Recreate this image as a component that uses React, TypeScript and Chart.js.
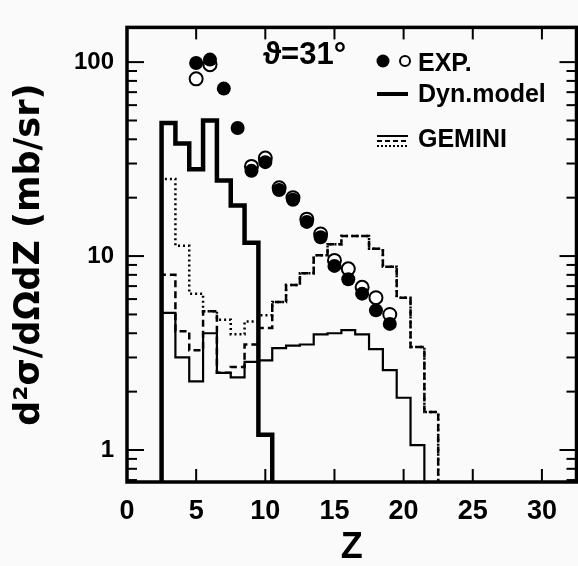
import React, { useEffect, useRef } from 'react';
import { Chart, registerables } from 'chart.js';

Chart.register(...registerables);

// ---------- data ----------
// experimental points, full circles
const expFilledZ = [5, 6, 7, 8, 9, 10, 11, 12, 13, 14, 15, 16, 17, 18, 19];
const expFilled = [99, 103, 73, 45.7, 27.5, 30.5, 21.9, 19.5, 15, 12.5, 8.9, 7.6, 6.4, 5.25, 4.47];
// experimental points, open circles
const expOpenZ = [5, 6, 9, 10, 11, 12, 13, 14, 15, 16, 17, 18, 19];
const expOpen = [82, 97, 29, 32, 22.5, 20, 15.5, 13, 9.5, 8.6, 6.9, 6.1, 5.0];

// Dyn. model histogram, bins Z = 3 .. 10
const dynFirstZ = 3;
const dynModel = [48.6, 38, 28, 50, 24.5, 18.2, 11.7, 1.2];

// GEMINI histograms
const gemSolidFirstZ = 3; // Z = 3 .. 21
const gemSolid = [5.1, 3.0, 2.26, 4.0, 2.5, 2.37, 2.85, 2.9, 3.35, 3.45, 3.5, 3.95, 4.0, 4.15, 3.95, 3.31, 2.58, 1.86, 1.06];
const gemDashedFirstZ = 3; // Z = 3 .. 22
const gemDashed = [8.0, 4.1, 3.27, 5.2, 2.5, 2.68, 3.5, 4.26, 5.8, 7.1, 8.15, 10.1, 11.5, 12.7, 12.7, 10.9, 8.8, 6.1, 3.4, 1.57];
const gemDottedFirstZ = 3; // Z = 3 .. 22
const gemDotted = [25, 11.3, 6.4, 5.2, 4.7, 3.95, 4.6, 4.95, 5.8, 7.1, 8.15, 10.1, 11.5, 12.7, 12.7, 10.9, 8.8, 6.1, 3.4, 1.57];

// axes
const xMin = 0;
const xMax = 32.5;
const yMin = 0.684;
const yMax = 151;
const xTicks = [0, 5, 10, 15, 20, 25, 30];
const yTicks = [1, 10, 100];
const yMinorTicks = [0.7, 0.8, 0.9, 2, 3, 4, 5, 6, 7, 8, 9, 20, 30, 40, 50, 60, 70, 80, 90];

const xTitle = 'Z';
const yTitle = 'd²σ/dΩdZ (mb/sr)';
const angleLabel = 'ϑ=31°';
const legendExp = 'EXP.';
const legendDyn = 'Dyn.model';
const legendGemini = 'GEMINI';

const FLOOR = 0.2; // below the axis minimum, clipped away

const FONT = "'Liberation Sans', Arial, sans-serif";

function histogram(firstZ: number, values: number[]) {
  const pts: { x: number; y: number }[] = [];
  pts.push({ x: firstZ - 0.5, y: FLOOR });
  values.forEach((v, i) => pts.push({ x: firstZ + i - 0.5, y: v }));
  const end = firstZ + values.length - 0.5;
  pts.push({ x: end, y: values[values.length - 1] });
  pts.push({ x: end, y: FLOOR });
  return pts;
}

const decorPlugin = {
  id: 'decor',
  afterDatasetsDraw(chart: any) {
    const { ctx, chartArea: a, scales } = chart;
    const x = scales.x;
    const y = scales.y;
    const line = (x1: number, y1: number, x2: number, y2: number) => {
      ctx.beginPath();
      ctx.moveTo(x1, y1);
      ctx.lineTo(x2, y2);
      ctx.stroke();
    };
    ctx.save();
    ctx.strokeStyle = '#000';
    ctx.fillStyle = '#000';
    ctx.lineWidth = 2;
    for (const v of yTicks) {
      const py = y.getPixelForValue(v);
      line(a.left, py, a.left + 17, py);
      line(a.right, py, a.right - 17, py);
    }
    for (const v of yMinorTicks) {
      const py = y.getPixelForValue(v);
      line(a.left, py, a.left + 10, py);
      line(a.right, py, a.right - 10, py);
    }
    for (const v of xTicks) {
      if (v === xMin) continue;
      const px = x.getPixelForValue(v);
      line(px, a.top, px, a.top + 12);
      line(px, a.bottom, px, a.bottom - 13);
    }
    // frame
    ctx.lineWidth = 3.5;
    ctx.strokeRect(a.left, a.top, a.right - a.left, a.bottom - a.top);

    // angle label
    ctx.font = `bold 31px ${FONT}`;
    ctx.textBaseline = 'alphabetic';
    ctx.textAlign = 'left';
    ctx.fillText(angleLabel, 263, 64);

    // legend
    ctx.font = `bold 25px ${FONT}`;
    // EXP
    ctx.beginPath();
    ctx.arc(383, 61, 6.5, 0, Math.PI * 2);
    ctx.fill();
    ctx.beginPath();
    ctx.lineWidth = 2;
    ctx.arc(405, 61, 5, 0, Math.PI * 2);
    ctx.stroke();
    ctx.fillText(legendExp, 418, 71);
    // Dyn model
    ctx.lineWidth = 4;
    line(377, 94, 408, 94);
    ctx.fillText(legendDyn, 418, 102);
    // GEMINI
    ctx.lineWidth = 2;
    line(377, 136, 408, 136);
    ctx.setLineDash([5, 3]);
    line(377, 141, 408, 141);
    ctx.setLineDash([2, 2]);
    line(377, 146, 408, 146);
    ctx.setLineDash([]);
    ctx.fillText(legendGemini, 418, 147);
    ctx.restore();
  },
};

export default function App() {
  const ref = useRef<HTMLCanvasElement | null>(null);

  useEffect(() => {
    if (!ref.current) return;
    const histCommon = {
      stepped: 'before' as const,
      pointRadius: 0,
      fill: false,
      borderColor: '#000',
      clip: 0,
    };
    const chart = new Chart(ref.current, {
      type: 'line',
      data: {
        datasets: [
          {
            label: 'EXP filled',
            data: expFilledZ.map((z, i) => ({ x: z, y: expFilled[i] })),
            showLine: false,
            pointRadius: 7,
            pointBackgroundColor: '#000',
            pointBorderColor: '#000',
            pointBorderWidth: 0,
          },
          {
            label: 'EXP open',
            data: expOpenZ.map((z, i) => ({ x: z, y: expOpen[i] })),
            showLine: false,
            pointRadius: 6.5,
            pointBackgroundColor: '#fff',
            pointBorderColor: '#000',
            pointBorderWidth: 2,
          },
          {
            label: 'Dyn.model',
            data: histogram(dynFirstZ, dynModel),
            borderWidth: 4.5,
            ...histCommon,
          },
          {
            label: 'GEMINI solid',
            data: histogram(gemSolidFirstZ, gemSolid),
            borderWidth: 2.2,
            ...histCommon,
          },
          {
            label: 'GEMINI dashed',
            data: histogram(gemDashedFirstZ, gemDashed),
            borderWidth: 2.5,
            borderDash: [7, 4],
            ...histCommon,
          },
          {
            label: 'GEMINI dotted',
            data: histogram(gemDottedFirstZ, gemDotted),
            borderWidth: 2.5,
            borderDash: [2, 3],
            ...histCommon,
          },
        ],
      },
      options: {
        responsive: false,
        animation: false,
        devicePixelRatio: 1,
        layout: { padding: { top: 13, left: 0, right: 0, bottom: 0 } },
        plugins: {
          legend: { display: false },
          tooltip: { enabled: false },
        },
        scales: {
          x: {
            type: 'linear',
            min: xMin,
            max: xMax,
            grid: { display: false, drawTicks: false },
            border: { display: false },
            afterBuildTicks: (s: any) => {
              s.ticks = xTicks.map((v) => ({ value: v }));
            },
            afterFit: (s: any) => {
              s.height = 84;
            },
            ticks: {
              color: '#000',
              font: { family: FONT, size: 27, weight: 'bold' },
              padding: 13,
              maxRotation: 0,
              autoSkip: false,
              callback: (v: any) => String(v),
            },
            title: {
              display: true,
              text: xTitle,
              color: '#000',
              font: { family: FONT, size: 36, weight: 'bold', lineHeight: 1 },
              padding: { top: 0, bottom: 0 },
            },
          },
          y: {
            type: 'logarithmic',
            min: yMin,
            max: yMax,
            grid: { display: false, drawTicks: false },
            border: { display: false },
            afterBuildTicks: (s: any) => {
              s.ticks = yTicks.map((v) => ({ value: v }));
            },
            afterFit: (s: any) => {
              s.width = 127;
            },
            ticks: {
              color: '#000',
              font: { family: FONT, size: 24, weight: 'bold' },
              padding: 13,
              autoSkip: false,
              callback: (v: any) => String(v),
            },
            title: {
              display: true,
              text: yTitle,
              color: '#000',
              font: { family: "'DejaVu Sans', sans-serif", size: 35, weight: 'bold', lineHeight: 1 },
              padding: { top: 12, bottom: 0 },
            },
          },
        },
      },
      plugins: [decorPlugin],
    } as any);
    return () => chart.destroy();
  }, []);

  return (
    <div
      style={{
        position: 'fixed',
        left: 0,
        top: 0,
        width: 578,
        height: 566,
        overflow: 'hidden',
        background: '#fafafa',
      }}
    >
      <canvas ref={ref} width={585} height={566} style={{ display: 'block' }} />
    </div>
  );
}
